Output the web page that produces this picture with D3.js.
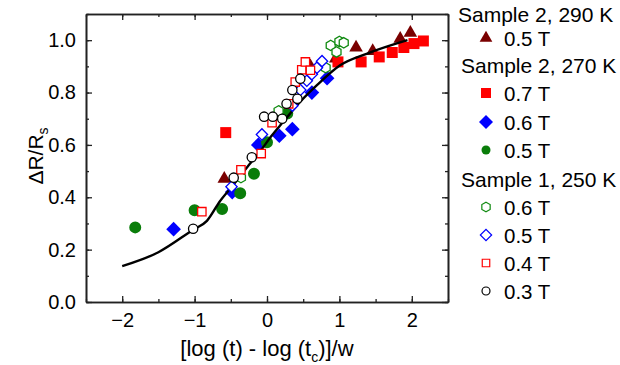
<!DOCTYPE html>
<html>
<head>
<meta charset="utf-8">
<script src="https://cdn.jsdelivr.net/npm/d3@7"></script>
<style>
  body { margin: 0; background: #fff; }
  svg { font-family: "Liberation Sans", Arial, sans-serif; }
</style>
</head>
<body>
<svg id="chart" width="620" height="365"></svg>
<script>
// data: [x, dR/Rs]
const s2_290_05 = [[-0.59, 0.47], [0.6, 0.9], [0.95, 0.93], [1.23, 0.972], [1.46, 0.958], [1.84, 1.005], [1.98, 1.028]];
const s2_270_07 = [[-0.57, 0.647], [0.98, 0.917], [1.30, 0.917], [1.55, 0.936], [1.73, 0.953], [1.89, 0.972], [2.03, 0.987], [2.16, 0.997]];
const s2_270_06 = [[-1.29, 0.278], [-0.48, 0.42], [-0.12, 0.6], [0.17, 0.635], [0.35, 0.66], [0.62, 0.8], [0.83, 0.855]];
const s2_270_05 = [[-1.82, 0.285], [-1.0, 0.35], [-0.62, 0.355], [-0.37, 0.415], [-0.18, 0.49], [0.0, 0.61], [0.28, 0.72]];
const s1_250_06 = [[-0.36, 0.475], [0.16, 0.73], [0.81, 0.895], [0.88, 0.98], [0.96, 0.955], [1.0, 0.995], [1.06, 0.99]];
const s1_250_05 = [[-0.49, 0.44], [-0.07, 0.64], [0.35, 0.75], [0.46, 0.81], [0.55, 0.845], [0.62, 0.87], [0.69, 0.895], [0.76, 0.92]];
const s1_250_04 = [[-0.9, 0.345], [-0.36, 0.505], [-0.08, 0.567], [0.07, 0.685], [0.3, 0.757], [0.39, 0.84], [0.48, 0.887], [0.53, 0.917], [0.6, 0.885]];
const s1_250_03 = [[-1.02, 0.28], [-0.46, 0.475], [-0.21, 0.553], [-0.04, 0.708], [0.08, 0.708], [0.21, 0.7], [0.27, 0.757], [0.42, 0.776], [0.35, 0.81], [0.46, 0.853]];

// fitted curve
const fitCurve = [[-2.0, 0.137], [-1.5, 0.19], [-1.02, 0.276], [-0.83, 0.31], [-0.65, 0.385], [-0.46, 0.449],
  [-0.28, 0.513], [-0.09, 0.577], [0.05, 0.63], [0.23, 0.69], [0.46, 0.765], [0.69, 0.828], [1.01, 0.904],
  [1.385, 0.949], [1.94, 1.0]];

const xTicks = [-2, -1, 0, 1, 2];
const yTicks = [0, 0.2, 0.4, 0.6, 0.8, 1.0];

const svg = d3.select("#chart");
const x = d3.scaleLinear().domain([-2.5, 2.5]).range([86, 448]);
const y = d3.scaleLinear().domain([0, 1.1]).range([302, 14]);

const hexagon = {
  draw(ctx, size) {
    const r = Math.sqrt(size / 2.598);
    for (let i = 0; i < 6; i++) {
      const a = -Math.PI / 2 + i * Math.PI / 3;
      i ? ctx.lineTo(r * Math.cos(a), r * Math.sin(a)) : ctx.moveTo(r * Math.cos(a), r * Math.sin(a));
    }
    ctx.closePath();
  }
};

const series = [
  { data: s2_290_05, shape: d3.symbolTriangle, size: 80, fill: "#7a0000", stroke: "none", rot: 0, lsize: 70, label: "0.5 T", row: 38 },
  { data: s2_270_07, shape: d3.symbolSquare, size: 121, fill: "#ff0000", stroke: "none", rot: 0, lsize: 100, label: "0.7 T", row: 93 },
  { data: s2_270_06, shape: d3.symbolSquare, size: 108, fill: "#0000ff", stroke: "none", rot: 45, lsize: 98, label: "0.6 T", row: 122 },
  { data: s2_270_05, shape: d3.symbolCircle, size: 113, fill: "#0a7d0a", stroke: "none", rot: 0, lsize: 64, label: "0.5 T", row: 150 },
  { line: true },
  { data: s1_250_06, shape: hexagon, size: 70, fill: "#fff", stroke: "#108a10", rot: 0, lsize: 60, label: "0.6 T", row: 207 },
  { data: s1_250_05, shape: d3.symbolSquare, size: 64, fill: "#fff", stroke: "#0000ff", rot: 45, lsize: 64, label: "0.5 T", row: 235 },
  { data: s1_250_04, shape: d3.symbolSquare, size: 70, fill: "#fff", stroke: "#ff0000", rot: 0, lsize: 56, label: "0.4 T", row: 263 },
  { data: s1_250_03, shape: d3.symbolCircle, size: 68, fill: "#fff", stroke: "#000", rot: 0, lsize: 50, label: "0.3 T", row: 291 }
];

// axes, ticks pointing inward on all four sides
const axisColor = "#222";
function styleAxis(g) {
  g.selectAll("path.domain").attr("stroke", axisColor).attr("stroke-width", 1.6);
  g.selectAll(".tick line").attr("stroke", axisColor).attr("stroke-width", 1.3);
  g.selectAll("text").attr("fill", "#000").attr("font-size", 20).attr("font-family", "Liberation Sans, Arial, sans-serif");
}
const xMinor = d3.range(-2.5, 2.51, 0.5);
const yMinor = d3.range(0, 1.101, 0.1);

svg.append("g").attr("transform", "translate(0,302)")
  .call(d3.axisBottom(x).tickValues(xMinor).tickSize(-3).tickSizeOuter(0).tickFormat(""))
  .call(styleAxis);
svg.append("g").attr("transform", "translate(0,302)")
  .call(d3.axisBottom(x).tickValues(xTicks).tickSize(-6).tickSizeOuter(0).tickPadding(11).tickFormat(d3.format("d")))
  .call(styleAxis);
svg.append("g").attr("transform", "translate(0,14)")
  .call(d3.axisTop(x).tickValues(xMinor).tickSize(-3).tickSizeOuter(0).tickFormat(""))
  .call(styleAxis);
svg.append("g").attr("transform", "translate(0,14)")
  .call(d3.axisTop(x).tickValues(xTicks).tickSize(-6).tickSizeOuter(0).tickFormat(""))
  .call(styleAxis);
svg.append("g").attr("transform", "translate(86,0)")
  .call(d3.axisLeft(y).tickValues(yMinor).tickSize(-3).tickSizeOuter(0).tickFormat(""))
  .call(styleAxis);
svg.append("g").attr("transform", "translate(86,0)")
  .call(d3.axisLeft(y).tickValues(yTicks).tickSize(-6).tickSizeOuter(0).tickPadding(10).tickFormat(d3.format(".1f")))
  .call(styleAxis);
svg.append("g").attr("transform", "translate(448,0)")
  .call(d3.axisRight(y).tickValues(yMinor).tickSize(-3).tickSizeOuter(0).tickFormat(""))
  .call(styleAxis);
svg.append("g").attr("transform", "translate(448,0)")
  .call(d3.axisRight(y).tickValues(yTicks).tickSize(-6).tickSizeOuter(0).tickFormat(""))
  .call(styleAxis);

// markers + fit line
const plot = svg.append("g");
series.forEach(s => {
  if (s.line) {
    plot.append("path").datum(fitCurve)
      .attr("fill", "none").attr("stroke", "#000").attr("stroke-width", 2.4)
      .attr("d", d3.line().x(d => x(d[0])).y(d => y(d[1])).curve(d3.curveMonotoneX));
    return;
  }
  plot.append("g").selectAll("path").data(s.data).join("path")
    .attr("transform", d => `translate(${x(d[0])},${y(d[1])}) rotate(${s.rot})`)
    .attr("d", d3.symbol(s.shape, s.size))
    .attr("fill", s.fill).attr("stroke", s.stroke).attr("stroke-width", 1.3);
});

// legend
const legend = svg.append("g");
[["Sample 2, 290 K", 458, 21.5], ["Sample 2, 270 K", 461, 73], ["Sample 1, 250 K", 461, 187]].forEach(([t, lx, ly]) => {
  legend.append("text").attr("x", lx).attr("y", ly).attr("font-size", 21).text(t);
});
series.filter(s => !s.line).forEach(s => {
  legend.append("path")
    .attr("transform", `translate(486,${s.row}) rotate(${s.rot})`)
    .attr("d", d3.symbol(s.shape, s.lsize))
    .attr("fill", s.fill).attr("stroke", s.stroke).attr("stroke-width", 1.2);
  legend.append("text").attr("x", 504).attr("y", s.row + 7.5).attr("font-size", 20.5).text(s.label);
});

// axis titles
const yTitle = svg.append("text").attr("transform", "translate(43,156) rotate(-90)")
  .attr("text-anchor", "middle").attr("font-size", 21);
yTitle.append("tspan").text("\u0394R/R");
yTitle.append("tspan").attr("font-size", 14).attr("dy", 5).text("s");

const xTitle = svg.append("text").attr("x", 267).attr("y", 356)
  .attr("text-anchor", "middle").attr("font-size", 22);
xTitle.append("tspan").text("[log (t) - log (t");
xTitle.append("tspan").attr("font-size", 14).attr("dy", 6).text("c");
xTitle.append("tspan").attr("dy", -6).text(")]/w");
</script>
</body>
</html>
